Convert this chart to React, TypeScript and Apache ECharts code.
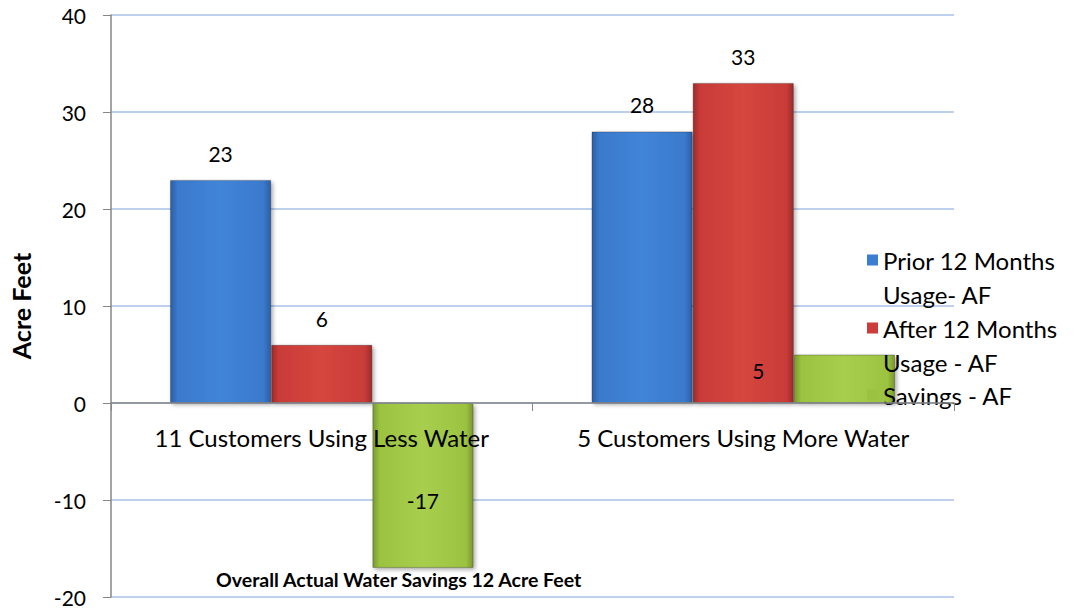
import React, { useEffect, useRef } from "react";
import * as echarts from "echarts";

const categories = ["11 Customers Using Less Water", "5 Customers Using More Water"];
const priorUsage = [23, 28];
const afterUsage = [6, 33];
const savings = [-17, 5];
const seriesNames = ["Prior 12 Months Usage- AF", "After 12 Months Usage - AF", "Savings - AF"];
const legendLines: Record<string, string> = {
  "Prior 12 Months Usage- AF": "Prior 12 Months\nUsage- AF",
  "After 12 Months Usage - AF": "After 12 Months\nUsage - AF",
  "Savings - AF": "Savings - AF",
};
const footnote = "Overall Actual Water Savings 12 Acre Feet";
const yName = "Acre Feet";
const yMin = -20;
const yMax = 40;
const yStep = 10;

const FONT = "Lato, 'Open Sans', sans-serif";

function grad(light: string, mid: string, dark: string) {
  return new echarts.graphic.LinearGradient(0, 0, 1, 0, [
    { offset: 0, color: dark },
    { offset: 0.07, color: mid },
    { offset: 0.5, color: light },
    { offset: 0.93, color: mid },
    { offset: 1, color: dark },
  ]);
}

export default function App() {
  const ref = useRef<HTMLDivElement>(null);
  useEffect(() => {
    document.body.style.margin = "0";
    const chart = echarts.init(ref.current!, null, { renderer: "svg" });
    const colors = [
      grad("#4185d8", "#3a79cb", "#2b5ea6"),
      grad("#d6463f", "#c93b38", "#9c2b29"),
      grad("#a8ce4e", "#9cc340", "#789a2d"),
    ];
    const legendColors = ["#3b7dd0", "#cc3c3a", "#9cc340"];
    const labelStyle = {
      show: true,
      position: "top" as const,
      distance: 16,
      fontFamily: FONT,
      fontSize: 21,
      color: "#000",
    };
    const mk = (i: number, data: any[]) => ({
      type: "bar",
      name: seriesNames[i],
      data,
      barGap: "0%",
      barCategoryGap: "28%",
      itemStyle: {
        color: colors[i],
        borderColor: "rgba(0,0,0,0.25)",
        borderWidth: 1,
        shadowColor: "rgba(0,0,0,0.35)",
        shadowBlur: 4,
        shadowOffsetX: 2,
        shadowOffsetY: 2,
      },
      label: labelStyle,
    });
    const legendText = { fontFamily: FONT, fontSize: 24, color: "#000", lineHeight: 34 };
    const tallIcon = "path://M0,0H11V11H0Z M0,44.99H0.01V45H0Z";
    const legendItemStyle = { borderWidth: 0, shadowBlur: 0, shadowOffsetX: 0, shadowOffsetY: 0 };
    chart.setOption({
      animation: false,
      color: legendColors,
      grid: { left: 103, right: 121, top: 15, bottom: 11, containLabel: false },
      legend: [
        {
          orient: "vertical",
          left: 867,
          top: 243,
          padding: 0,
          itemWidth: 11,
          itemHeight: 45,
          itemGap: 0,
          selectedMode: false,
          icon: tallIcon,
          itemStyle: legendItemStyle,
          data: [
            { name: seriesNames[0], itemStyle: { color: legendColors[0] } },
            { name: seriesNames[1], itemStyle: { color: legendColors[1] } },
          ],
          formatter: (n: string) => legendLines[n],
          textStyle: legendText,
        },
        {
          orient: "vertical",
          left: 867,
          top: 378,
          padding: 0,
          itemWidth: 11,
          itemHeight: 11,
          itemGap: 0,
          selectedMode: false,
          icon: "rect",
          itemStyle: legendItemStyle,
          data: [{ name: seriesNames[2], itemStyle: { color: legendColors[2] } }],
          formatter: (n: string) => legendLines[n],
          textStyle: legendText,
        },
      ],
      xAxis: {
        type: "category",
        data: categories,
        position: "bottom",
        offset: -194,
        axisLine: { onZero: false, lineStyle: { color: "#868686", width: 1.5 } },
        axisTick: { show: true, length: 8, lineStyle: { color: "#868686" } },
        axisLabel: { fontFamily: FONT, fontSize: 24, color: "#000", margin: 22, interval: 0 },
        z: 5,
      },
      yAxis: {
        type: "value",
        min: yMin,
        max: yMax,
        interval: yStep,
        name: yName,
        nameLocation: "middle",
        nameGap: 78,
        nameTextStyle: { fontFamily: FONT, fontSize: 25, fontWeight: "bold", color: "#000" },
        axisLine: { show: true, lineStyle: { color: "#868686", width: 1.5 } },
        axisTick: { show: true, length: 8, lineStyle: { color: "#868686" } },
        axisLabel: { fontFamily: FONT, fontSize: 21, color: "#000", margin: 25 },
        splitLine: { show: true, lineStyle: { color: "#a9c0e8", width: 1.5 } },
      },
      graphic: [
        {
          type: "text",
          left: 216,
          top: 569,
          style: { text: footnote, font: `bold 19.5px ${FONT}`, fill: "#000" },
        },
      ],
      series: [
        mk(0, priorUsage),
        mk(1, afterUsage),
        mk(2, [
          { value: savings[0], label: { position: "inside", offset: [0, 15] } },
          { value: savings[1], label: { position: "top", offset: [-86, 42] } },
        ]),
      ],
    });
    return () => chart.dispose();
  }, []);
  return <div ref={ref} style={{ width: 1075, height: 608 }} />;
}
